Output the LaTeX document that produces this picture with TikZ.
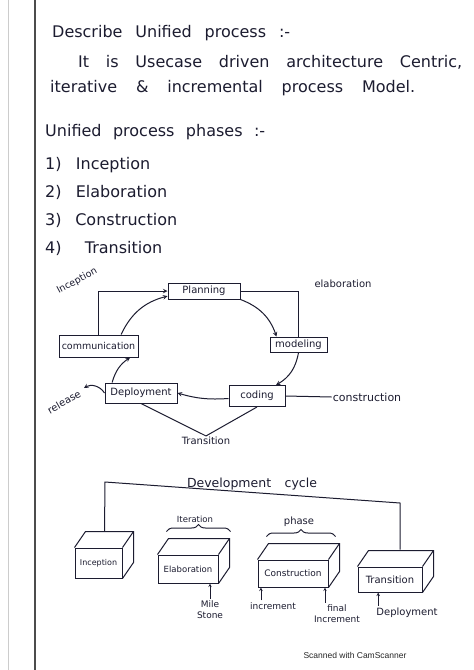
\documentclass[tikz,border=0pt]{standalone}
\usepackage{fontspec}
\setsansfont{DejaVu Sans}
\newfontfamily\scanfont{Liberation Sans}
\usepackage{tikz}
\usetikzlibrary{arrows}
\usetikzlibrary{decorations.pathreplacing}
\definecolor{ink}{RGB}{28,28,48}
\newcommand{\spread}[2]{\makebox[#1][s]{#2}}
\newcommand{\fs}[1]{\sffamily\fontsize{#1}{1.2\dimexpr#1pt\relax}\selectfont}
\tikzstyle{arrow} = [line width=1pt,->,>=stealth,draw=ink]
\tikzstyle{uparrow} = [semithick,->,>=stealth,draw=ink]
\tikzstyle{line} = [line width=1pt,draw=ink]
\tikzstyle{big} = [font=\fs{16}, text=ink, anchor=west, inner sep=0pt]
\tikzstyle{note} = [font=\fs{10}, text=ink, inner sep=1pt]
\tikzstyle{small} = [font=\fs{9}, text=ink, inner sep=2pt]
\tikzstyle{stage} = [draw=ink, line width=1pt, inner sep=1pt, text=ink, font=\fs{10}]
\tikzstyle{block} = [draw=ink, line width=1pt, inner sep=1pt, text=ink, font=\fs{8.5}]

\begin{document}
\begin{tikzpicture}[x=1pt,y=-1pt]
\fill[white] (0,0) rectangle (474,670);
\useasboundingbox (0,0) rectangle (474,670);
% page margin
\draw[black!20, line width=1pt] (8,0) -- (8,670);
\draw[black!70, line width=1.6pt] (35,0) -- (35,670);

% written notes
\node[big] (desc) at (52,33) {\spread{238pt}{Describe Unified process :-}};
\node[big] (def1) at (78,62) {\spread{384pt}{It is Usecase driven architecture Centric,}};
\node[big] (def2) at (50,88) {\spread{365pt}{iterative \& incremental process Model.}};
\node[big] (phases) at (45,132) {\spread{220pt}{Unified process phases :-}};
\node[big] (p1) at (45,165) {\spread{105pt}{1) Inception}};
\node[big] (p2) at (45,192) {\spread{122pt}{2) Elaboration}};
\node[big] (p3) at (45,220) {\spread{132pt}{3) Construction}};
\node[big] (p4) at (45,248) {\spread{117pt}{4) Transition}};

% the cycle
\node[stage, minimum width=72, minimum height=16] (plan) at (204,291) {Planning};
\node[stage, minimum width=57, minimum height=15] (model) at (298.5,344.5) {modeling};
\node[stage, minimum width=56, minimum height=21] (code) at (257,396) {coding};
\node[stage, minimum width=72, minimum height=20] (deploy) at (141,393) {Deployment};
\node[stage, minimum width=79, minimum height=22, font=\fs{9.5}] (comm) at (98.5,346) {communication};

\draw[arrow] (plan.south east) to[bend left=25] (model.160);
\draw[arrow] (model.south) to[bend left=25] (code.30);
\draw[arrow] (code.185) to[bend left=10] (deploy.east);
\draw[arrow] (deploy.160) to[bend left=20] (comm.-20);
\draw[arrow] (comm.27) to[bend left=25] (plan.188);

\node[note, rotate=28, font=\fs{9.5}] (inc) at (77,281) {Inception};
\draw[arrow] (comm.north) |- (plan.west);
\node[note, font=\fs{10}] (elab) at (343,284) {elaboration};
\draw[line] (plan.east) -| (model.north);
\node[note, font=\fs{11}] (constr) at (367,397) {construction};
\draw[line] (code.east) -- (constr.west);
\node[note] (trans) at (206,441) {Transition};
\draw[line] (deploy.south) -- (trans.north) -- (code.south);
\node[note, rotate=30] (rel) at (64,402) {release};
\coordinate (relEnd) at (84,388);
\draw[arrow] (deploy.west) to[bend right=45] (relEnd);

% development cycle
\node[block, minimum width=47, minimum height=30, font=\fs{8}] (phInc) at (98.5,563) {Inception};
\node[block, minimum width=60, minimum height=28] (phElab) at (188,569) {Elaboration};
\node[block, minimum width=70, minimum height=27, font=\fs{9}] (phCons) at (293,573.5) {Construction};
\node[block, minimum width=64, minimum height=25, font=\fs{10}] (phTrans) at (390,579.5) {Transition};
\foreach \b in {phInc,phElab,phCons,phTrans}{
  \draw[line] (\b.north west) -- ++(11,-16) -- ([shift={(11,-16)}]\b.north east)
    -- ([shift={(11,-16)}]\b.south east) -- (\b.south east);
  \draw[line] (\b.north east) -- ++(11,-16);
}

\node[note, font=\fs{12.5}] (devcyc) at (252,484) {\spread{130pt}{Development cycle}};
\coordinate (cycL) at (105,482);
\coordinate (cycR) at (400,503);
\draw[line] ([shift={(6,-16)}]phInc.north) -- (cycL) -- (cycR) -- ([shift={(10,-17)}]phTrans.north);

\draw[line, decorate, decoration={brace, amplitude=7}] ([shift={(9,-23)}]phElab.north west) -- ([shift={(12,-23)}]phElab.north east);
\node[small, font=\fs{8.5}] (iter) at (195,519) {Iteration};
\draw[line, decorate, decoration={brace, amplitude=7}] ([shift={(9,-23)}]phCons.north west) -- ([shift={(7,-23)}]phCons.north east);
\node[small, font=\fs{10}] (phase) at (299,522) {phase};

\node[small, align=center] (mile) at (210,610) {Mile\\Stone};
\draw[uparrow] (mile.north) -- (mile.north |- phElab.south);
\node[small] (incr) at (273,606) {increment};
\coordinate (incrTip) at ([xshift=13]incr.north west);
\draw[uparrow] (incrTip) -- (incrTip |- phCons.south);
\node[small, align=center] (fin) at (337,614) {final\\Increment};
\coordinate (finTip) at ([xshift=-12]fin.north);
\draw[uparrow] (finTip) -- (finTip |- phCons.south);
\node[small, font=\fs{10}] (dep) at (407,613) {Deployment};
\coordinate (depTip) at ([xshift=4]dep.north west);
\draw[uparrow] (depTip) -- (depTip |- phTrans.south);

\node[font=\scanfont\fontsize{8.5}{10}\selectfont, text=black!85] (scan) at (355,655) {Scanned with CamScanner};
\end{tikzpicture}
\end{document}
